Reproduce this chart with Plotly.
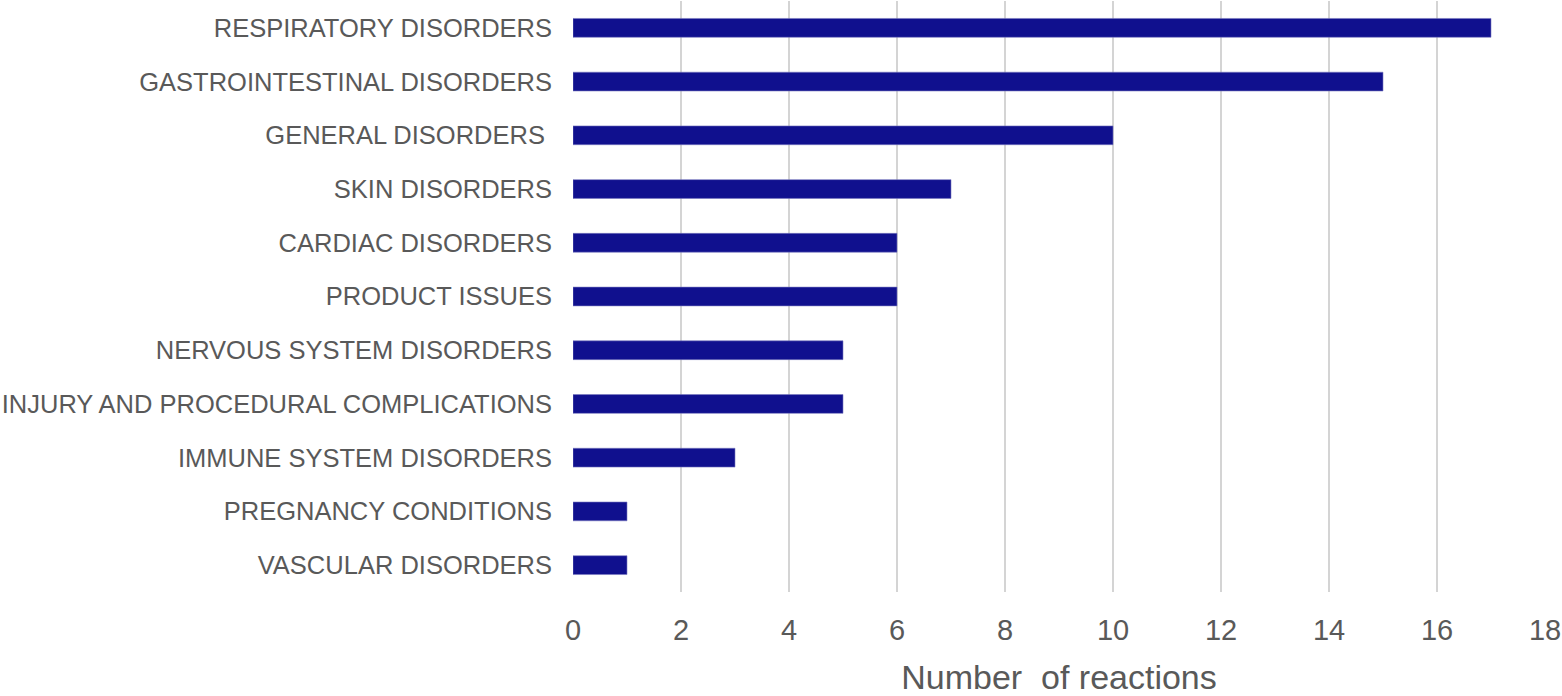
import plotly.graph_objects as go

categories = [
    "RESPIRATORY DISORDERS",
    "GASTROINTESTINAL DISORDERS",
    "GENERAL DISORDERS\u00a0",
    "SKIN DISORDERS",
    "CARDIAC DISORDERS",
    "PRODUCT ISSUES",
    "NERVOUS SYSTEM DISORDERS",
    "INJURY AND PROCEDURAL COMPLICATIONS",
    "IMMUNE SYSTEM DISORDERS",
    "PREGNANCY CONDITIONS",
    "VASCULAR DISORDERS",
]
values = [17, 15, 10, 7, 6, 6, 5, 5, 3, 1, 1]
x_ticks = [0, 2, 4, 6, 8, 10, 12, 14, 16, 18]

fig = go.Figure(go.Bar(
    x=values, y=categories, orientation="h",
    marker=dict(color="#10108E", line=dict(color="#7878C0", width=0.6)),
))

fig.update_layout(
    width=1562, height=696,
    margin=dict(l=573, r=17, t=1, b=104),
    plot_bgcolor="white", paper_bgcolor="white",
    bargap=0.65,
    showlegend=False,
    font=dict(family="Liberation Sans, Arial, sans-serif", color="#595959"),
)
fig.update_xaxes(
    range=[0, 18], tickvals=x_ticks, showgrid=True, gridcolor="#D4D4D4", gridwidth=2,
    zeroline=False, showline=False, tickfont=dict(size=29, color="#595959"),
    ticklabelstandoff=18, automargin=False,
    title=dict(text="Number\u00a0 of reactions", font=dict(size=34, color="#595959"), standoff=24),
)
fig.update_yaxes(
    autorange="reversed", showgrid=False, zeroline=False, showline=False,
    tickfont=dict(size=25.5, color="#595959"), ticklabelstandoff=20, automargin=False,
)

fig.write_html("out.html")
